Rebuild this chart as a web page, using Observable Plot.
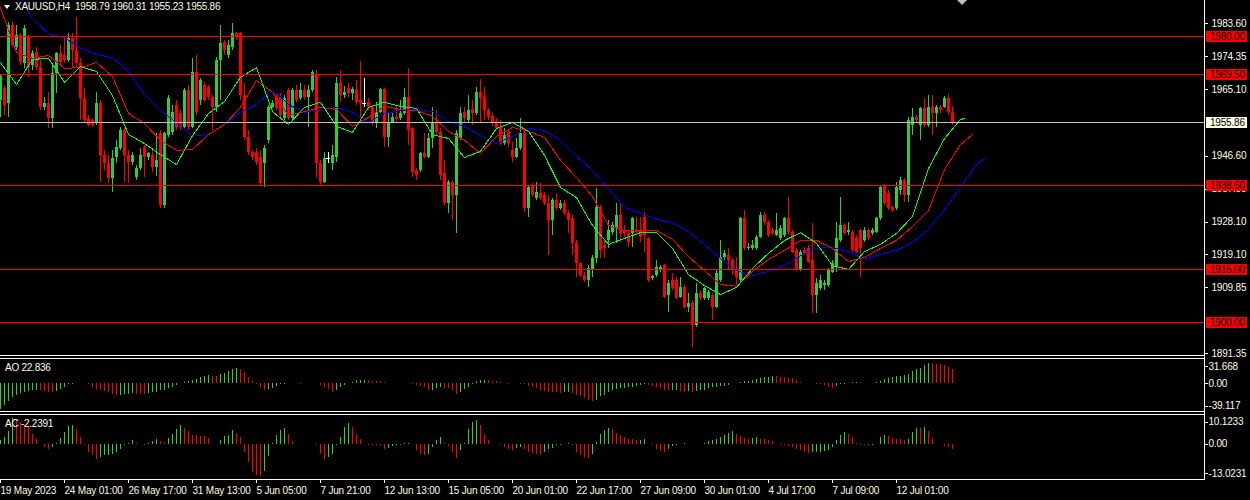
<!DOCTYPE html>
<html>
<head>
<meta charset="utf-8">
<script src="https://cdn.jsdelivr.net/npm/d3@7"></script>
<script src="https://cdn.jsdelivr.net/npm/@observablehq/plot@0.6"></script>
<style>
html,body{margin:0;padding:0;background:#000;}
#chart{position:relative;width:1250px;height:500px;background:#000;overflow:hidden;font-family:"Liberation Sans",Arial,sans-serif;font-size:10px;color:#fffce0;}
#chart svg{position:absolute;left:0;}
#chart svg text{letter-spacing:-0.2px;}
#chart svg path,#chart svg line,#chart svg rect{shape-rendering:crispEdges;}
.hl{position:absolute;height:1px;background:#fffce0;}
.vl{position:absolute;width:1px;background:#fffce0;}
.lbl{position:absolute;white-space:pre;font-size:10px;line-height:10px;color:#fffce0;letter-spacing:-0.25px;}
</style>
</head>
<body>
<div id="chart"></div>
<script>
// ---------- DATA ----------
const symbol = "XAUUSD,H4";
const open = [
1962.1,1965.5,1961.3,1983.1,1976.9,1980.3,1972.5,1979.7,1971.9,1975.5,
1971.3,1960.2,1961.3,1957.1,1969.7,1975.2,1974.7,1973.3,1979.4,1976.1,
1972.5,1962.7,1957.1,1956.5,1955.7,1961.3,1946.8,1944.5,1940.3,1946.2,
1948.7,1953.7,1946.8,1944.8,1940.6,1943.1,1949.0,1946.2,1946.8,1943.4,
1952.9,1932.8,1952.3,1953.2,1960.7,1958.5,1954.6,1964.9,1954.6,1970.0,
1962.1,1966.3,1965.8,1963.0,1960.2,1973.3,1978.3,1974.7,1976.9,1980.8,
1980.8,1963.5,1951.8,1947.6,1947.6,1946.2,1944.5,1951.0,1960.2,1963.0,
1963.0,1957.1,1964.9,1957.1,1964.9,1962.7,1964.9,1963.0,1964.9,1969.1,
1944.5,1939.2,1945.9,1944.5,1946.2,1966.9,1963.5,1965.5,1964.1,1964.9,
1962.1,1961.3,1961.6,1960.2,1955.7,1958.8,1965.2,1951.8,1956.0,1957.4,
1957.1,1958.5,1963.0,1954.3,1942.6,1942.6,1947.3,1946.2,1951.5,1956.0,
1953.2,1941.7,1933.4,1939.2,1935.6,1951.5,1958.8,1956.5,1959.6,1958.5,
1964.4,1963.0,1959.3,1957.7,1956.3,1954.6,1950.1,1953.2,1948.2,1946.2,
1948.7,1952.9,1931.9,1938.4,1934.7,1936.1,1935.6,1933.4,1928.6,1934.2,
1932.0,1933.4,1930.6,1929.2,1922.2,1916.6,1913.2,1911.8,1914.6,1918.0,
1932.2,1921.6,1923.0,1925.2,1926.4,1930.0,1925.8,1924.9,1924.9,1925.8,
1925.8,1929.4,1923.6,1912.4,1913.2,1914.6,1916.0,1907.6,1911.8,1911.8,
1907.1,1909.9,1904.3,1905.4,1899.3,1908.2,1906.8,1906.8,1907.6,1904.3,
1911.8,1918.3,1918.8,1917.4,1914.6,1911.8,1929.2,1920.8,1920.8,1920.8,
1923.8,1930.0,1928.0,1925.8,1924.4,1923.6,1924.4,1929.2,1925.2,1920.2,
1914.6,1920.2,1920.8,1917.4,1907.6,1909.6,1910.4,1910.4,1914.1,1915.5,
1923.0,1927.2,1925.2,1925.2,1923.6,1925.8,1923.0,1925.8,1924.9,1925.2,
1929.2,1938.4,1936.1,1932.2,1932.0,1937.0,1939.8,1935.6,1955.1,1957.4,
1955.1,1959.9,1955.1,1960.2,1958.5,1960.2,1960.2,1962.7,1958.79];
const high = [
1969.4,1966.3,1983.9,1983.9,1983.1,1980.8,1983.1,1980.3,1976.1,1976.9,
1973.3,1963.0,1964.4,1971.9,1975.5,1977.5,1979.7,1980.8,1980.8,1985.3,
1973.9,1965.5,1957.9,1957.1,1964.4,1962.1,1948.2,1946.8,1948.2,1951.0,
1954.6,1954.6,1948.2,1947.6,1944.0,1948.7,1949.6,1947.6,1948.2,1952.9,
1953.7,1953.2,1963.5,1960.7,1962.1,1959.3,1965.5,1966.3,1973.9,1974.7,
1968.3,1967.2,1966.3,1963.5,1974.1,1983.1,1978.9,1978.9,1983.6,1981.1,
1981.1,1966.9,1953.7,1948.2,1948.7,1948.2,1949.6,1960.7,1962.1,1964.1,
1964.1,1963.5,1965.5,1965.5,1966.3,1966.9,1966.3,1966.3,1970.5,1970.5,
1945.4,1947.6,1947.6,1949.6,1968.5,1970.5,1966.1,1966.9,1965.8,1967.7,
1973.0,1968.3,1962.7,1960.7,1961.6,1965.5,1965.5,1958.8,1958.8,1960.5,
1962.1,1965.5,1971.1,1954.6,1943.1,1947.6,1952.9,1952.9,1960.2,1959.3,
1954.3,1945.4,1939.8,1939.8,1953.7,1960.2,1960.2,1963.5,1962.1,1965.8,
1968.0,1965.8,1959.9,1958.5,1957.1,1956.5,1954.3,1953.7,1950.4,1951.5,
1957.1,1954.3,1938.4,1938.9,1939.2,1938.9,1936.4,1935.6,1934.7,1936.1,
1934.2,1934.2,1931.4,1930.0,1923.0,1916.9,1914.1,1916.0,1918.8,1937.5,
1932.8,1923.0,1928.6,1928.0,1933.4,1933.4,1927.2,1925.8,1929.4,1929.4,
1929.4,1930.8,1923.8,1913.2,1917.4,1916.0,1916.3,1911.8,1913.8,1912.7,
1912.7,1910.4,1908.2,1906.2,1911.0,1909.0,1909.9,1909.0,1908.2,1914.6,
1923.0,1920.2,1920.8,1918.0,1918.3,1929.5,1931.4,1922.2,1923.0,1924.4,
1930.8,1930.8,1928.6,1926.4,1930.6,1927.2,1929.4,1935.0,1925.8,1920.8,
1920.2,1921.1,1921.6,1927.8,1912.4,1913.2,1911.8,1915.2,1917.4,1928.0,
1935.0,1927.8,1928.0,1925.8,1924.4,1926.1,1926.6,1926.4,1926.4,1929.4,
1938.4,1938.7,1937.0,1932.5,1939.2,1940.6,1940.3,1957.4,1959.9,1957.9,
1960.2,1962.7,1963.5,1963.5,1960.7,1960.7,1963.2,1963.8,1960.31];
const low = [
1957.4,1957.9,1957.4,1976.9,1976.1,1971.9,1971.1,1968.5,1970.5,1970.5,
1959.3,1959.3,1954.3,1954.3,1964.1,1971.9,1972.5,1972.7,1971.3,1971.6,
1956.5,1956.0,1954.8,1954.6,1955.1,1939.2,1942.6,1938.9,1936.4,1944.5,
1948.2,1939.2,1938.9,1944.0,1939.8,1942.6,1940.6,1945.4,1942.0,1940.9,
1931.9,1931.9,1951.8,1952.3,1953.7,1953.7,1953.7,1953.7,1954.3,1957.9,
1960.7,1961.6,1962.1,1953.7,1958.8,1962.1,1974.7,1973.9,1976.1,1978.9,
1962.1,1951.0,1946.8,1945.4,1944.0,1938.4,1937.8,1950.1,1959.9,1959.3,
1957.4,1956.5,1956.5,1956.5,1961.6,1962.1,1962.1,1954.6,1964.4,1940.6,
1938.4,1938.9,1944.5,1942.6,1944.8,1961.6,1962.7,1963.0,1962.1,1960.7,
1957.1,1960.2,1959.3,1955.1,1954.3,1958.5,1949.0,1949.0,1955.7,1956.3,
1956.5,1957.9,1949.6,1940.6,1939.8,1942.0,1945.9,1945.9,1948.7,1952.3,
1939.8,1932.8,1930.6,1928.6,1925.0,1950.9,1956.0,1956.0,1955.1,1957.9,
1956.0,1956.5,1956.5,1954.9,1953.7,1949.6,1949.6,1949.0,1944.8,1945.9,
1948.2,1930.8,1929.4,1935.0,1934.2,1934.2,1932.8,1918.8,1924.4,1931.4,
1931.4,1930.0,1925.0,1918.8,1912.7,1912.7,1911.3,1909.9,1912.7,1916.6,
1918.0,1918.0,1920.8,1924.4,1922.2,1922.5,1923.8,1921.1,1921.1,1924.4,
1922.5,1919.7,1911.3,1911.8,1912.7,1914.1,1906.8,1902.9,1909.0,1906.5,
1906.8,1904.0,1902.9,1893.1,1898.7,1906.2,1906.2,1906.2,1900.7,1904.0,
1911.3,1917.4,1914.6,1913.2,1910.4,1911.0,1920.2,1920.2,1920.2,1920.2,
1923.6,1927.2,1923.8,1924.4,1924.1,1923.0,1923.8,1924.4,1919.4,1914.4,
1914.4,1918.8,1916.6,1902.6,1902.6,1909.0,1909.0,1909.9,1913.8,1914.1,
1922.5,1924.4,1924.4,1919.7,1919.4,1912.7,1922.5,1923.0,1924.4,1924.9,
1928.6,1932.8,1931.4,1930.8,1931.4,1935.6,1933.6,1933.6,1952.3,1956.0,
1950.9,1954.6,1954.6,1952.3,1954.6,1958.5,1959.9,1957.9,1955.23];
const close = [
1968.8,1960.7,1983.1,1977.5,1980.3,1972.7,1982.2,1971.3,1975.2,1971.3,
1960.2,1961.3,1957.1,1969.7,1975.2,1972.7,1973.3,1979.4,1976.1,1972.5,
1962.7,1956.5,1955.1,1955.1,1961.3,1946.8,1944.5,1940.3,1945.9,1949.0,
1953.7,1946.8,1944.8,1946.8,1943.1,1946.8,1946.2,1947.3,1943.4,1945.4,
1932.8,1952.9,1962.7,1958.8,1954.6,1954.6,1964.9,1954.6,1970.0,1958.8,
1967.7,1962.1,1963.0,1960.2,1973.3,1978.0,1976.1,1977.5,1980.8,1979.7,
1963.5,1951.8,1947.6,1946.2,1944.8,1938.9,1948.7,1960.2,1961.3,1959.9,
1957.9,1962.7,1957.1,1964.9,1962.1,1964.9,1963.0,1964.9,1970.0,1944.5,
1939.2,1945.9,1945.9,1946.8,1966.9,1963.5,1964.4,1964.1,1965.2,1961.6,
1961.3,1961.3,1960.2,1955.7,1958.8,1965.2,1951.8,1956.0,1957.4,1956.8,
1958.5,1963.0,1953.7,1942.0,1941.2,1947.3,1946.2,1951.5,1956.0,1953.2,
1941.2,1933.4,1939.2,1935.6,1952.9,1958.5,1957.1,1959.3,1958.5,1964.4,
1962.7,1959.3,1957.4,1955.7,1954.3,1950.1,1952.3,1950.1,1946.2,1948.7,
1952.9,1931.9,1937.8,1935.6,1936.4,1934.7,1933.4,1928.6,1934.2,1932.0,
1933.4,1930.6,1928.6,1922.2,1916.6,1913.2,1911.8,1915.2,1918.0,1932.2,
1920.2,1920.8,1925.8,1927.2,1930.0,1924.9,1924.9,1922.5,1929.2,1925.2,
1923.8,1924.4,1911.8,1912.9,1915.5,1915.5,1907.1,1911.0,1909.6,1906.8,
1909.9,1904.3,1905.4,1899.3,1908.2,1906.8,1909.6,1908.5,1904.3,1913.8,
1918.3,1919.4,1917.4,1914.6,1912.7,1929.2,1920.8,1921.1,1921.6,1923.8,
1930.0,1928.0,1924.4,1924.9,1925.8,1926.4,1929.2,1925.2,1919.7,1914.6,
1919.7,1919.4,1916.9,1907.6,1911.0,1911.8,1911.0,1914.6,1916.6,1923.6,
1927.2,1924.9,1925.8,1920.2,1919.7,1920.8,1925.8,1923.6,1925.8,1929.2,
1937.8,1933.4,1932.0,1931.4,1937.8,1939.8,1935.6,1956.5,1957.4,1956.5,
1959.9,1955.1,1960.2,1958.5,1960.2,1959.3,1962.7,1958.79,1955.86];

// Alligator lines read at these bar positions (lines run past the last bar)
const maIdx = [0,4,8,12,16,20,24,28,32,36,40,44,48,52,56,60,64,68,72,76,80,84,88,92,96,100,104,108,112,116,120,124,128,132,136,140,144,148,152,156,160,164,168,172,176,180,184,188,192,196,200,204,208,212,216,220,224,228,232,236,240,241,243,244,246];
const lips = [1972.7,1966.6,1973.6,1973.9,1967.2,1971.6,1970.2,1963.5,1952.6,1950.1,
1947.0,1944.2,1952.3,1958.5,1961.8,1968.6,1971.3,1959.0,1955.4,1960.2,
1961.6,1954.9,1953.2,1960.2,1961.6,1960.5,1959.9,1952.6,1951.5,1946.2,
1947.9,1954.3,1956.0,1953.5,1946.8,1937.8,1935.0,1927.2,1921.9,1923.6,
1925.2,1925.2,1920.8,1913.5,1910.4,1907.9,1909.9,1915.2,1919.4,1923.0,
1925.2,1922.2,1916.0,1914.9,1919.9,1921.9,1925.0,1929.7,1943.1,1951.5,
1956.8,1957.1,null,null,null];
const teeth = [1988.1,1975.5,1973.9,1974.7,1971.1,1971.3,1972.7,1968.8,1958.5,1955.7,
1951.0,1948.2,1948.4,1952.6,1955.4,1960.2,1967.7,1964.4,1957.9,1959.0,
1960.2,1959.6,1954.9,1957.4,1960.5,1959.6,1959.3,1957.7,1953.5,1951.0,
1947.3,1952.1,1954.6,1953.5,1951.8,1945.4,1940.6,1935.3,1927.2,1925.8,
1925.8,1925.8,1923.3,1918.5,1914.6,1910.7,1910.2,1914.4,1917.7,1920.2,
1923.0,1923.0,1920.8,1917.1,1918.3,1920.8,1923.0,1926.9,1931.4,1942.8,
1949.8,null,1952.6,null,null];
const jaw = [1996.0,1992.9,1985.0,1980.8,1979.7,1976.7,1975.0,1974.1,1970.2,1963.8,
1959.3,1956.0,1952.3,1952.6,1955.4,1958.8,1961.0,1965.2,1961.0,1958.8,
1959.3,1960.2,1958.8,1956.0,1958.5,1959.3,1959.6,1959.0,1956.3,1954.9,
1952.3,1950.1,1952.1,1954.3,1953.7,1951.0,1946.5,1942.6,1937.5,1932.2,
1930.6,1928.9,1928.0,1925.5,1921.9,1918.0,1914.6,1913.2,1914.4,1916.0,
1918.8,1920.8,1921.1,1919.9,1917.7,1919.1,1920.2,1922.5,1926.1,1931.7,
1937.8,null,null,1944.2,1945.9];

const ao = [
-39.1,-33.0,-27.9,-21.9,-17.8,-15.2,-13.7,-11.6,-10.1,-9.8,
-11.1,-11.6,-12.7,-13.7,-11.6,-8.6,-5.1,-1.5,-0.5,0.25,
1.0,0.7,-1.5,-5.1,-8.6,-10.1,-11.6,-13.7,-16.7,-18.8,
-17.8,-16.7,-16.2,-15.7,-16.2,-16.7,-17.3,-15.7,-14.2,-12.7,
-11.1,-9.6,-7.6,-5.6,-2.6,0.4,2.0,3.6,5.1,6.6,
9.6,11.6,12.7,11.6,11.1,14.2,16.7,19.3,21.9,23.8,
21.9,17.8,10.1,4.1,-1.5,-5.1,-10.1,-8.6,-6.6,-4.1,
-1.5,-0.5,0.2,0.1,-0.25,-0.3,0.25,0.4,0.7,0.3,
-2.6,-5.1,-8.6,-12.7,-10.1,-6.1,-2.6,0.4,2.6,4.6,
5.1,5.3,4.6,4.1,3.8,3.6,2.6,1.2,0.7,0.25,
-0.25,0.2,-0.2,-1.0,-2.0,-3.6,-6.1,-10.1,-9.6,-7.6,
-6.1,-6.6,-7.6,-10.1,-16.2,-12.7,-8.6,-5.1,-0.8,4.1,
5.1,5.3,4.6,4.3,3.6,2.6,0.5,-0.5,0.2,-0.25,
-0.5,-1.5,-3.6,-6.1,-7.6,-10.1,-11.6,-12.7,-13.7,-14.2,
-14.5,-14.2,-14.0,-15.2,-17.8,-20.3,-22.9,-25.3,-27.9,-25.3,
-20.3,-17.8,-13.7,-11.1,-8.6,-7.6,-6.6,-6.1,-5.1,-3.6,
-2.6,-1.5,-2.6,-3.6,-6.1,-7.6,-10.1,-11.1,-10.9,-10.6,
-11.6,-12.7,-11.6,-12.7,-11.6,-10.1,-9.9,-7.6,-6.1,-5.1,
-4.1,-3.6,-2.6,0.25,1.0,2.6,3.6,4.1,5.1,6.6,
7.6,9.1,10.1,11.1,11.0,10.1,9.6,8.6,7.6,5.1,
2.6,1.2,0.4,0.2,-0.4,-1.5,-2.6,-5.1,-6.6,-3.6,
-1.5,-1.0,0.2,1.5,2.6,1.5,0.5,0.2,0.1,2.6,
4.1,6.6,8.6,10.1,11.1,11.6,12.7,15.2,18.8,22.9,
24.3,28.9,31.668,31.2,30.7,29.9,28.4,26.0,22.836];
const ac = [
1.3,2.7,5.0,10.1233,9.5,8.7,7.4,6.7,4.0,1.7,
-0.3,-1.3,-2.0,-1.3,0.4,2.3,4.7,7.1,7.4,6.0,
2.7,-0.4,-3.4,-4.7,-6.0,-5.4,-4.7,-4.4,-4.3,-3.4,
-2.0,-0.4,0.4,1.3,0.4,-0.3,-0.4,0.1,0.9,1.7,
0.9,0.8,2.3,4.0,6.0,7.4,6.3,5.0,3.4,3.3,
3.2,3.0,2.3,-0.2,-0.3,1.3,3.0,3.6,5.4,4.4,
2.7,-3.4,-7.4,-11.4,-12.5,-13.0231,-11.0,-5.0,0.2,3.4,
5.4,6.3,4.0,0.9,-0.1,-0.2,-0.3,-0.1,0.0,-0.7,
-4.0,-6.0,-5.5,-4.0,-0.7,2.7,6.7,8.1,6.7,4.0,
2.0,-0.1,-0.4,-0.5,-0.7,-0.9,-2.0,-1.6,-0.9,-0.4,
-0.7,0.3,0.4,-0.3,-2.7,-4.0,-4.7,-4.0,-1.3,1.3,
2.7,0.4,-0.9,-3.4,-5.8,-2.7,0.4,5.8,8.7,9.4,
7.4,4.0,1.3,-0.1,-0.3,-0.7,-1.3,-2.0,-2.4,-1.7,
-1.3,-2.0,-3.4,-3.6,-4.0,-4.4,-3.4,-2.3,-1.7,-0.7,
-0.4,-0.1,0.05,-0.4,-3.4,-4.7,-5.4,-5.6,-4.0,0.5,
4.0,5.5,6.3,5.8,4.4,3.4,2.7,2.0,1.7,1.3,
1.5,1.7,-0.05,-0.7,-2.0,-3.0,-3.2,-2.0,-1.0,-0.4,
-0.1,0.05,-0.05,-0.1,-0.15,0.0,0.4,0.9,1.3,2.0,
2.7,3.4,4.4,5.0,4.0,3.0,2.3,1.7,2.3,2.7,
2.0,1.7,1.3,0.9,0.0,-0.4,-0.7,-0.9,-1.3,-2.0,
-2.7,-3.4,-3.6,-3.5,-3.3,-3.2,-3.0,-2.7,-1.3,1.3,
3.4,4.7,4.0,2.7,0.4,-0.4,-0.7,-0.9,-0.4,0.0,
2.7,3.4,3.0,2.3,2.0,1.7,1.3,2.0,4.7,6.3,
6.2,6.7,5.0,2.3,-0.05,-0.3,-0.9,-1.3,-2.2391];

const levels = [1980.00, 1969.50, 1938.50, 1915.00, 1900.00];
const bid = 1955.86;
const priceTicks = [1983.60, 1974.35, 1965.10, 1946.60, 1937.35, 1928.10, 1919.10, 1909.85, 1891.35];
const aoTicks = [31.668, 0, -39.117];
const acTicks = [10.1233, 0, -13.0231];
const dateIdx = [0,16,32,48,64,80,96,112,128,144,160,176,192,208,224];
const dateLabels = ["19 May 2023","24 May 01:00","26 May 17:00","31 May 13:00","5 Jun 05:00","7 Jun 21:00","12 Jun 13:00","15 Jun 05:00","20 Jun 01:00","22 Jun 17:00","27 Jun 09:00","30 Jun 01:00","4 Jul 17:00","7 Jul 09:00","12 Jul 01:00"];

// ---------- SCALES / STYLE ----------
const W = 1250, axisX = 1204;
const xDomain = [0, 301];
const priceDomain = [1890.59, 1990.06];
const aoDomain = [-42.9, 37.7];
const acDomain = [-14.19, 11.41];
const FG = "#fffce0", BULL = "#32cd32", BEAR = "#ff0000";
const font = "Liberation Sans, Arial, sans-serif";
const fmt2 = d3.format(".2f");
const style = {background: "transparent", color: FG, fontFamily: font, fontSize: "10px", overflow: "visible"};

const chart = document.getElementById("chart");
const bars = open.map((o, i) => ({i, o, h: high[i], l: low[i], c: close[i]}));
const candleColor = d => d.c > d.o ? BULL : d.c < d.o ? BEAR : "#ffffff";
const lineData = arr => maIdx.map((i, k) => ({i, v: arr[k]})).filter(d => d.v != null);
const histData = arr => arr.map((v, i) => ({i, v, col: (i === 0 || v > arr[i - 1]) ? BULL : BEAR}));
const tf = d => d === 0 ? "0.00" : String(d);
const yAxisOpts = {anchor: "right", tickSize: 3, tickPadding: 1, tickFormat: tf, stroke: FG, fill: FG, label: null};

// ---------- MAIN PRICE PANEL ----------
const main = Plot.plot({
  width: W, height: 356, marginLeft: 0, marginRight: W - axisX, marginTop: 0, marginBottom: 0,
  x: {domain: xDomain, axis: null},
  y: {domain: priceDomain, axis: null},
  color: {type: "identity"},
  style,
  marks: [
    Plot.ruleX(bars, {x: "i", y1: "l", y2: "h", stroke: candleColor, strokeWidth: 1, clip: true}),
    Plot.ruleX(bars.filter(d => d.o !== d.c), {x: "i", y1: "o", y2: "c", stroke: candleColor, strokeWidth: 3, clip: true}),
    Plot.ruleY(bars.filter(d => d.o === d.c), {y: "o", x1: d => d.i - 0.4, x2: d => d.i + 0.4, stroke: "#ffffff"}),
    Plot.line(lineData(jaw), {x: "i", y: "v", stroke: "#0000ff", strokeWidth: 1, clip: true}),
    Plot.line(lineData(teeth), {x: "i", y: "v", stroke: "#ff0000", strokeWidth: 1, clip: true}),
    Plot.line(lineData(lips), {x: "i", y: "v", stroke: "#00ff00", strokeWidth: 1, clip: true}),
    Plot.ruleY(levels, {stroke: "#ff0000", strokeWidth: 1}),
    Plot.ruleY([bid], {stroke: "#c0c0c0", strokeWidth: 1}),
    Plot.axisY(priceTicks, {anchor: "right", tickSize: 3, tickPadding: 4, tickFormat: fmt2, stroke: FG, fill: FG, label: null})
  ]
});
main.style.top = "0px";
chart.appendChild(main);

// price boxes for the horizontal levels and the bid line
{
  const ys = main.scale("y");
  const svg = d3.select(main);
  const boxes = levels.map(v => ({v, fill: "#ff0000"})).concat([{v: bid, fill: "#fffce8"}]);
  for (const b of boxes) {
    const yc = Math.round(ys.apply(b.v));
    svg.append("rect").attr("x", axisX + 2).attr("y", yc - 5).attr("width", 41).attr("height", 11).attr("fill", b.fill);
    svg.append("text").attr("x", axisX + 6).attr("y", yc + 4).attr("text-anchor", "start")
      .attr("fill", "#000").attr("font-family", font).attr("font-size", 10).text(fmt2(b.v));
  }
}

// ---------- AO PANEL ----------
const aoPlot = Plot.plot({
  width: W, height: 52, marginLeft: 0, marginRight: W - axisX, marginTop: 0, marginBottom: 0,
  x: {domain: xDomain, axis: null},
  y: {domain: aoDomain, axis: null},
  color: {type: "identity"},
  style,
  marks: [
    Plot.ruleX(histData(ao), {x: "i", y1: 0, y2: "v", stroke: "col", strokeWidth: 1}),
    Plot.axisY([aoTicks[0]], {...yAxisOpts, dy: 3.5}),
    Plot.axisY([aoTicks[1]], yAxisOpts),
    Plot.axisY([aoTicks[2]], {...yAxisOpts, dy: -3})
  ]
});
aoPlot.style.top = "359px";
chart.appendChild(aoPlot);

// ---------- AC PANEL + TIME AXIS ----------
const acPlot = Plot.plot({
  width: W, height: 85, marginLeft: 0, marginRight: W - axisX, marginTop: 0, marginBottom: 21,
  x: {domain: xDomain, axis: null},
  y: {domain: acDomain, axis: null},
  color: {type: "identity"},
  style,
  marks: [
    Plot.ruleX(histData(ac), {x: "i", y1: 0, y2: "v", stroke: "col", strokeWidth: 1}),
    Plot.axisY([acTicks[0]], {...yAxisOpts, dy: 3.5}),
    Plot.axisY([acTicks[1]], yAxisOpts),
    Plot.axisY([acTicks[2]], {...yAxisOpts, dy: -3}),
    Plot.axisX(dateIdx, {anchor: "bottom", tickSize: 4, tickPadding: 3, textAnchor: "start", label: null,
      tickFormat: i => dateLabels[dateIdx.indexOf(i)], stroke: FG, fill: FG})
  ]
});
acPlot.style.top = "415px";
chart.appendChild(acPlot);

// ---------- WINDOW CHROME ----------
function hl(top) { const d = document.createElement("div"); d.className = "hl"; d.style.left = "0px"; d.style.top = top + "px"; d.style.width = (axisX + 1) + "px"; chart.appendChild(d); }
[355, 358, 411, 414, 479].forEach(hl);
{ const v = document.createElement("div"); v.className = "vl"; v.style.left = axisX + "px"; v.style.top = "0px"; v.style.height = "480px"; chart.appendChild(v); }
// chart-shift marker
{ const t = document.createElement("div"); t.style.cssText = "position:absolute;left:957px;top:0;width:0;height:0;border-left:5px solid transparent;border-right:5px solid transparent;border-top:5px solid #c0c0c0;"; chart.appendChild(t); }

// ---------- TEXT LABELS ----------
function label(txt, left, top) { const d = document.createElement("div"); d.className = "lbl"; d.style.left = left + "px"; d.style.top = top + "px"; d.textContent = txt; chart.appendChild(d); }
{ const t = document.createElement("div"); t.style.cssText = "position:absolute;left:4px;top:5px;width:0;height:0;border-left:3.5px solid transparent;border-right:3.5px solid transparent;border-top:4px solid " + FG + ";"; chart.appendChild(t); }
const last = open.length - 1;
label(symbol + "  " + [open[last], high[last], low[last], close[last]].map(fmt2).join(" "), 15, 2);
label("AO " + ao[ao.length - 1], 5, 363);
label("AC " + ac[ac.length - 1], 5, 419);
</script>
</body>
</html>
